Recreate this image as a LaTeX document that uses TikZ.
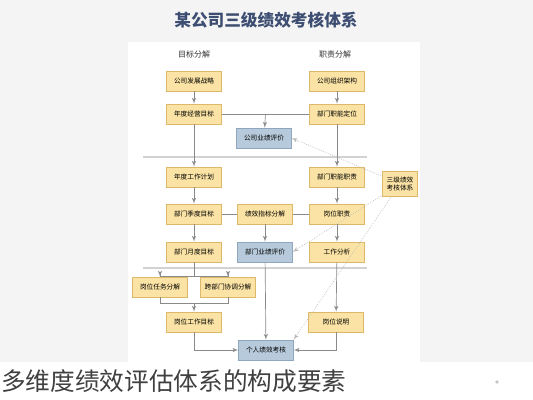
\documentclass[tikz,border=0pt]{standalone}
\usepackage{fontspec}
\setmainfont{Noto Sans CJK SC}
\usepackage{xcolor}
\definecolor{box_fill}{HTML}{FAE3A4}
\definecolor{box_line}{HTML}{DDB86A}
\definecolor{blue_fill}{HTML}{B7CADB}
\definecolor{blue_line}{HTML}{8EA7BE}
\definecolor{title_blue}{HTML}{3D4E72}
\definecolor{line_gray}{HTML}{8A8A8A}
\usetikzlibrary{arrows.meta,positioning,calc,arrows}

\begin{document}
\begin{tikzpicture}[x=0.75pt,y=-0.75pt]
\tikzset{
    box/.style={rectangle,draw=box_line,fill=box_fill,minimum width=41pt,minimum height=15pt,inner sep=1pt,font=\fontsize{5}{6}\selectfont},
    bluebox/.style={box,draw=blue_line,fill=blue_fill},
    edge/.style={->,> = latex',draw=line_gray,line width=0.5pt},
    link/.style={draw=line_gray,line width=0.5pt},
    dotedge/.style={->,> = latex',draw=gray!55,line width=0.5pt,densely dotted},
    sep/.style={draw=gray!35,line width=1.6pt},
    header/.style={font=\fontsize{6}{7}\selectfont,text=black!80}
}
\useasboundingbox (0,0) rectangle (533,400);
% background
\fill[gray!9] (0,0) rectangle (533,400);
\fill[white] (128,42) rectangle (420,362);
\fill[white] (0,362) rectangle (533,400);
% title and headers
\node[font=\fontsize{12.5}{14}\bfseries,text=title_blue] (title) at (266,20) {某公司三级绩效考核体系};
\node[header] (hl) at (194,54) {目标分解};
\node[header] (hr) at (335,54) {职责分解};
% separators
\draw[sep] (143,157) -- (367,157);
\draw[sep] (143,268) -- (367,268);
% left column
\node[box] (L1) at (194,81) {公司发展战略};
\node[box] (L2) at (194,114) {年度经营目标};
\node[box] (L3) at (194,177) {年度工作计划};
\node[box] (L4) at (194,214) {部门季度目标};
\node[box] (L5) at (194,252) {部门月度目标};
\node[box] (L6a) at (160,287) {岗位任务分解};
\node[box] (L6b) at (228,287) {跨部门协调分解};
\node[box] (L7) at (194,322) {岗位工作目标};
% right column
\node[box] (R1) at (337,81) {公司组织架构};
\node[box] (R2) at (337,114) {部门职能定位};
\node[box] (R3) at (337,177) {部门职能职责};
\node[box] (R4) at (337,214) {岗位职责};
\node[box] (R5) at (337,252) {工作分析};
\node[box] (R6) at (336,322) {岗位说明};
% middle
\node[bluebox] (M1) at (264,138) {公司业绩评价};
\node[box] (M2) at (265,214) {绩效指标分解};
\node[bluebox] (M3) at (265,252) {部门业绩评价};
\node[bluebox] (M4) at (266,350) {个人绩效考核};
\node[box,minimum width=26pt,minimum height=19pt,align=center,font=\fontsize{5}{6.5}\selectfont] (RB) at (400,184) {三级绩效\\考核体系};
% edges
\draw[edge] (L1) -- (L2);
\draw[edge] (R1) -- (R2);
\draw[link] (L2) -- (R2);
\draw[edge] ($(L2)!0.5!(R2)$) -- (M1);
\draw[edge] (L2) -- (L3);
\draw[edge] (R2) -- (R3);
\draw[edge] (L3) -- (L4);
\draw[edge] (L4) -- (L5);
\draw[edge] (R3) -- (R4);
\draw[edge] (R4) -- (R5);
\draw[link] (L4) -- (M2);
\draw[link] (M2) -- (R4);
\draw[edge] (M2) -- (M3);
\draw[edge] (M3) -- (M4);
\coordinate (s1) at (194,276);
\coordinate (s2) at (194,303);
\draw[link] (L5) -- (s1);
\draw[edge] (s1) -| (L6a);
\draw[edge] (s1) -| (L6b);
\draw[link] (L6a) |- (s2);
\draw[link] (L6b) |- (s2);
\draw[edge] (s2) -- (L7);
\draw[edge] (L7) |- (M4);
\draw[edge] (R5) -- (R6);
\draw[edge] (R6) |- (M4);
\draw[dotedge] (RB) -- (M1.east);
\draw[dotedge] (RB) -- (M3.east);
\draw[dotedge] (RB) -- (M4.north east);
% caption
\node[anchor=west,font=\fontsize{18.5}{20}\selectfont,text=black!75,inner sep=0pt] (cap) at (1,381) {多维度绩效评估体系的构成要素};
\fill[gray!45] (497,382) circle (1.8);
\end{tikzpicture}
\end{document}
